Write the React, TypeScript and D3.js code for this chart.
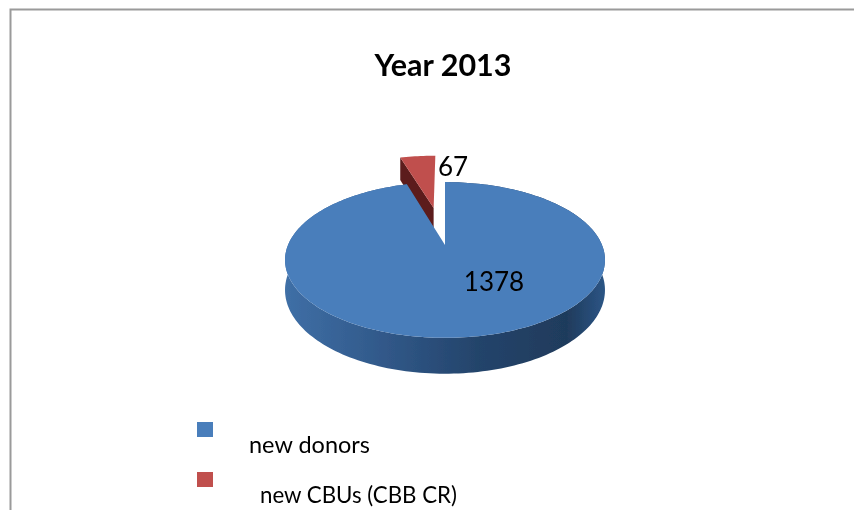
import React from "react";
import * as d3 from "d3";

const categories = ["new donors", "new CBUs (CBB CR)"];
const values = [1378, 67];
const title = "Year 2013";

const W = 854, H = 510;
const CX = 445, CY = 245;
const RX = 157, RY = 75, K = 0.192, DEPTH = 29, EXPLODE = 0.55;
const BLUE = "#4a7ebb", RED = "#c0504d", RED_DARK = "#5c1c1a";

type Pt = [number, number];
// perspective projection of a point on the pie disc (u right, v toward viewer, z down)
const project = (u: number, v: number, z = 0): Pt => {
  const w = 1 - K * v;
  return [CX + (RX * u) / w, CY + (RY * v + DEPTH * z) / w];
};

const pieGen = d3.pie<number>().sort(null);
const arcs = pieGen(values);
const lineGen = d3.line();

const rimAngles = (a0: number, a1: number) => {
  const n = Math.max(2, Math.ceil((a1 - a0) * 40));
  return d3.range(n + 1).map((i) => a0 + ((a1 - a0) * i) / n);
};

const P = (a: number, ox: number, oy: number, z: number) =>
  project(ox + Math.sin(a), oy - Math.cos(a), z);

const topFace = (a0: number, a1: number, ox: number, oy: number) =>
  lineGen([project(ox, oy), ...rimAngles(a0, a1).map((a) => P(a, ox, oy, 0))]) + "Z";

const rimWall = (a0: number, a1: number, ox: number, oy: number) => {
  const as = rimAngles(a0, a1);
  return (
    lineGen([
      ...as.map((a) => P(a, ox, oy, 0)),
      ...as.slice().reverse().map((a) => P(a, ox, oy, 1)),
    ]) + "Z"
  );
};

const radialWall = (a: number, ox: number, oy: number) =>
  lineGen([project(ox, oy), P(a, ox, oy, 0), P(a, ox, oy, 1), project(ox, oy, 1)]) + "Z";

export default function App() {
  const blue = arcs[0];
  const red = arcs[1];
  const mid = (red.startAngle + red.endAngle) / 2;
  const ox = EXPLODE * Math.sin(mid);
  const oy = -EXPLODE * Math.cos(mid);
  const legendY = d3.scalePoint<string>().domain(categories).range([430, 480]);
  const colors = [BLUE, RED];
  const textX = [249, 260];
  const textW = [121, 197];
  const font = "Lato, 'Open Sans', sans-serif";

  return (
    <svg
      width={W}
      height={H}
      viewBox={`0 0 ${W} ${H}`}
      style={{ position: "fixed", left: 0, top: 0, display: "block", background: "#fff" }}
    >
      <defs>
        <linearGradient id="wall" x1="0" x2="1" y1="0" y2="0">
          <stop offset="0" stopColor="#3f6fa6" />
          <stop offset="0.3" stopColor="#31598a" />
          <stop offset="0.6" stopColor="#24446b" />
          <stop offset="0.88" stopColor="#1f3b5c" />
          <stop offset="1" stopColor="#2c5585" />
        </linearGradient>
        <filter id="soft" x="-5%" y="-5%" width="110%" height="110%">
          <feGaussianBlur stdDeviation="0.5" />
        </filter>
      </defs>
      <g filter="url(#soft)">
        <path d={`M10.5 ${H + 5}V9.5H${W + 5}`} fill="none" stroke="#9a9a9a" strokeWidth={2} />
        <text x={443} y={76} textAnchor="middle" fontFamily={font} fontWeight={700} fontSize={30.5} fill="#000">
          {title}
        </text>

        <path d={radialWall(red.startAngle, ox, oy)} fill={RED_DARK} />
        <path d={topFace(red.startAngle, red.endAngle, ox, oy)} fill={RED} />
        <path d={rimWall(blue.startAngle, blue.endAngle, 0, 0)} fill="url(#wall)" />
        <path d={topFace(blue.startAngle, blue.endAngle, 0, 0)} fill={BLUE} />

        <text x={494} y={291} textAnchor="middle" fontFamily={font} fontSize={26} fill="#000">
          {values[0]}
        </text>
        <text x={453} y={176} textAnchor="middle" fontFamily={font} fontSize={26} fill="#000">
          {values[1]}
        </text>

        {categories.map((c, i) => (
          <g key={c}>
            <rect x={197} y={legendY(c)! - 8} width={16} height={15} fill={colors[i]} />
            <text
              x={textX[i]}
              y={legendY(c)! + 23}
              fontFamily={font}
              fontSize={23}
              fill="#000"
              textLength={textW[i]}
              lengthAdjust="spacingAndGlyphs"
            >
              {c}
            </text>
          </g>
        ))}
      </g>
    </svg>
  );
}
